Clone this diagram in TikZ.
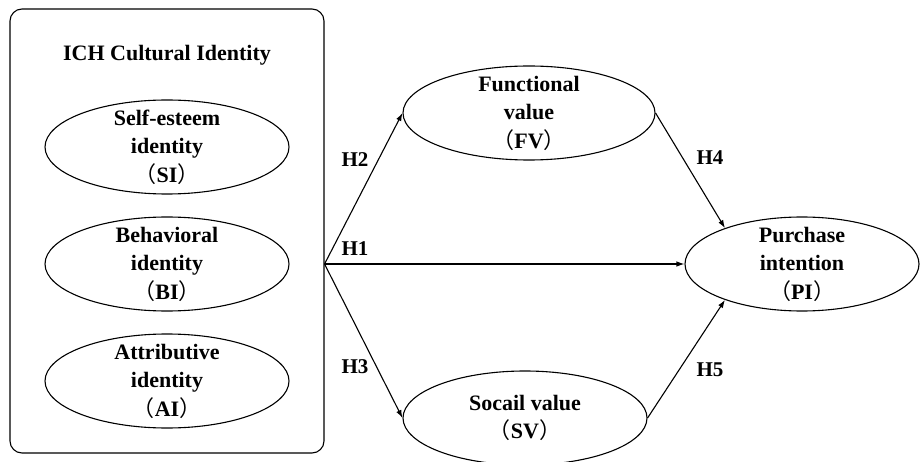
\documentclass[tikz,border=0pt]{standalone}
\usepackage{fontspec}
\setmainfont{Liberation Serif}
\newfontfamily\cjk{Noto Sans CJK SC}
\usepackage{tikz}
\usetikzlibrary{arrows.meta,shapes.geometric}
\newcommand{\cjkparen}[1]{{\mdseries\cjk （}#1{\mdseries\cjk ）}}

\begin{document}
\begin{tikzpicture}[x=1pt,y=-1pt,
    every node/.style={font=\bfseries\fontsize{22}{28.5}\selectfont},
    construct/.style={draw,ellipse,line width=1.1pt,minimum height=94pt,
      inner xsep=0pt,inner ysep=-30pt,align=center},
    hyp/.style={font=\bfseries\fontsize{21}{24}\selectfont},
    link/.style={-{Latex[length=8pt,width=5.5pt]},line width=1.1pt}]
  \useasboundingbox (0,0) rectangle (920,462);
  \clip (0,0) rectangle (920,462);
  % identity block
  \node[draw,rounded corners=12pt,line width=1.1pt,minimum width=314pt,
    minimum height=444pt] (ichbox) at (167,231) {};
  \node (title) at (167,55) {ICH Cultural Identity};
  \node[construct,minimum width=244pt] (SI) at (167,147) {Self-esteem\\identity\\\cjkparen{SI}};
  \node[construct,minimum width=244pt] (BI) at (167,264) {Behavioral\\identity\\\cjkparen{BI}};
  \node[construct,minimum width=244pt] (AI) at (167,381) {Attributive\\identity\\\cjkparen{AI}};
  % values and intention
  \node[construct,minimum width=252pt] (FV) at (529,113) {Functional\\value\\\cjkparen{FV}};
  \node[construct,minimum width=244pt] (SV) at (525,418) {Socail value\\\cjkparen{SV}};
  \node[construct,minimum width=234pt] (PI) at (802,264) {Purchase\\intention\\\cjkparen{PI}};
  \coordinate (src) at (ichbox.east |- BI.center);
  % hypotheses
  \draw[link] (src) -- (FV.west);
  \draw[link] (src) -- (PI.west);
  \draw[link] (src) -- (SV.west);
  \draw[link] (FV.east) -- (PI.155);
  \draw[link] (SV.east) -- (PI.205);
  \node[hyp] (h1) at (355,249) {H1};
  \node[hyp] (h2) at (355,160) {H2};
  \node[hyp] (h3) at (355,367) {H3};
  \node[hyp] (h4) at (710,158) {H4};
  \node[hyp] (h5) at (710,370) {H5};
\end{tikzpicture}
\end{document}
